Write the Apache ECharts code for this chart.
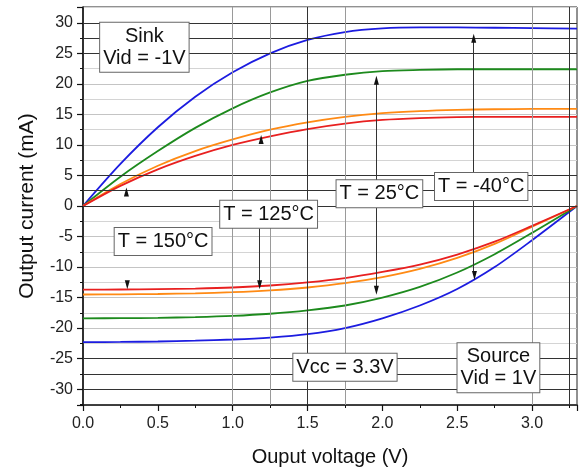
<!DOCTYPE html>
<html><head><meta charset="utf-8">
<script src="https://cdn.jsdelivr.net/npm/echarts@6/dist/echarts.min.js"></script>
<style>html,body{margin:0;padding:0;background:#fff}#c{width:581px;height:472px}</style>
</head><body><div id="c"></div>
<script>
// ---- data ----
const voltage = [0, 0.25, 0.5, 0.75, 1.0, 1.25, 1.5, 1.75, 2.0, 2.25, 2.5, 2.75, 3.0, 3.3];
const sinkBlue   = [0, 6.9, 12.9, 17.9, 21.9, 25.0, 27.2, 28.5, 29.1, 29.25, 29.25, 29.2, 29.15, 29.05];
const sinkGreen  = [0, 4.8, 9.0, 12.8, 16.0, 18.6, 20.5, 21.5, 22.1, 22.3, 22.4, 22.4, 22.4, 22.4];
const sinkOrange = [0, 3.6, 6.6, 9.0, 10.9, 12.5, 13.7, 14.6, 15.2, 15.55, 15.75, 15.85, 15.9, 15.9];
const sinkRed    = [0, 3.3, 6.0, 8.2, 10.0, 11.4, 12.6, 13.5, 14.1, 14.4, 14.55, 14.6, 14.6, 14.6];
const sourceBlue   = [-22.3, -22.27, -22.2, -22.07, -21.87, -21.55, -21.0, -20.0, -18.4, -16.3, -13.6, -10.0, -5.6, 0];
const sourceGreen  = [-18.4, -18.38, -18.32, -18.2, -18.0, -17.65, -17.1, -16.3, -15.0, -13.25, -10.9, -7.9, -4.4, 0];
const sourceOrange = [-14.5, -14.47, -14.42, -14.3, -14.12, -13.82, -13.35, -12.65, -11.65, -10.3, -8.5, -6.2, -3.4, 0];
const sourceRed    = [-13.7, -13.68, -13.63, -13.53, -13.35, -13.02, -12.5, -11.8, -10.8, -9.6, -7.95, -5.85, -3.25, 0];

const xTickLabels = ['0.0', '0.5', '1.0', '1.5', '2.0', '2.5', '3.0'];
const yTickLabels = ['-30', '-25', '-20', '-15', '-10', '-5', '0', '5', '10', '15', '20', '25', '30'];

const noteTexts = ['Sink\nVid = -1V', 'T = 150°C', 'T = 125°C', 'T = 25°C', 'T = -40°C', 'Vcc = 3.3V', 'Source\nVid = 1V'];
const noteAnchors = [[0.41, 26], [0.535, -5.8], [1.24, -1.35], [1.98, 2.0], [2.66, 3.2], [1.75, -26.4], [2.775, -26.5]];
const pointerLines = [[[1.18, -3.7], [1.18, -12.9]], [[1.96, 21.0], [1.96, -14.0]], [[2.61, 27.8], [2.61, -11.2]]];
const arrowUp = [[0.29, 2.3], [1.19, 10.9], [1.96, 20.6], [2.61, 27.5]];
const arrowDown = [[0.296, -12.9], [1.18, -12.9], [1.96, -13.8], [2.615, -11.4]];

const darkRulesY = [30, 27.5, 25, 5, 2.5, 0, -25, -27.5, -30];
const darkRulesX = [1.5, 3.25];
const lightRulesX = [1.0, 1.25, 1.75, 3.0];

// ---- chart ----
const FONT = '"Liberation Sans", Arial, sans-serif';
const chart = echarts.init(document.getElementById('c'), null, {renderer: 'canvas'});

function pairs(ys) { return voltage.map((v, i) => [v, ys[i]]); }
function curve(name, ys, color) {
  return {
    name, type: 'line', data: pairs(ys), showSymbol: false, symbol: 'none',
    smooth: 0.3, z: 3,
    lineStyle: {color, width: 1.8}, itemStyle: {color}
  };
}

const series = [
  {
    type: 'line', data: [], z: 1, silent: true,
    markLine: {
      silent: true, symbol: ['none', 'none'], label: {show: false}, animation: false,
      data: [
        ...darkRulesY.map(v => ({yAxis: v, lineStyle: {color: '#333', width: 1, type: 'solid'}})),
        ...darkRulesX.map(v => ({xAxis: v, lineStyle: {color: '#333', width: 1, type: 'solid'}})),
        ...lightRulesX.map(v => ({xAxis: v, lineStyle: {color: '#9a9a9a', width: 1, type: 'solid'}}))
      ]
    }
  },
  curve('sinkBlue', sinkBlue, '#1c1ce0'),
  curve('sinkGreen', sinkGreen, '#1d8a1d'),
  curve('sinkOrange', sinkOrange, '#ff8a14'),
  curve('sinkRed', sinkRed, '#e82020'),
  curve('sourceBlue', sourceBlue, '#1c1ce0'),
  curve('sourceGreen', sourceGreen, '#1d8a1d'),
  curve('sourceOrange', sourceOrange, '#ff8a14'),
  curve('sourceRed', sourceRed, '#e82020'),
  {
    type: 'line', data: [], z: 4, silent: true,
    markLine: {
      silent: true, symbol: ['none', 'none'], label: {show: false}, animation: false,
      lineStyle: {color: '#333', width: 1, type: 'solid'},
      data: pointerLines.map(p => [{coord: p[0]}, {coord: p[1]}])
    },
    markPoint: {
      silent: true, animation: false,
      data: [
        ...arrowUp.map(c => ({coord: c, symbol: 'triangle', symbolSize: [5, 9], symbolRotate: 0,
          itemStyle: {color: '#111'}, label: {show: false}})),
        ...arrowDown.map(c => ({coord: c, symbol: 'triangle', symbolSize: [5, 9], symbolRotate: 180,
          itemStyle: {color: '#111'}, label: {show: false}}))
      ]
    }
  },
  {
    type: 'line', data: [], z: 6, silent: true,
    markPoint: {
      silent: true, animation: false,
      data: noteTexts.map((t, i) => ({
        coord: noteAnchors[i], symbol: 'rect', symbolSize: 1,
        itemStyle: {color: 'rgba(0,0,0,0)'},
        label: {
          show: true, position: 'inside', formatter: t, color: '#111',
          fontFamily: FONT, fontSize: 20, lineHeight: 22, align: 'center',
          backgroundColor: '#fff', borderColor: '#666', borderWidth: 1, padding: [3, 3, 2, 3]
        }
      }))
    }
  }
];

chart.setOption({
  animation: false,
  backgroundColor: '#fff',
  grid: {left: 83, right: 4, top: 7, bottom: 67, show: true, borderColor: '#222', borderWidth: 1},
  xAxis: {
    type: 'value', min: 0, max: 3.3, interval: 0.5,
    name: 'Ouput voltage (V)', nameLocation: 'middle', nameGap: 42,
    nameTextStyle: {fontFamily: FONT, fontSize: 20, color: '#111'},
    axisLine: {show: true, onZero: false, lineStyle: {color: '#111', width: 1.5}},
    axisTick: {show: true, inside: false, length: 6, lineStyle: {color: '#111', width: 1.2}},
    minorTick: {show: true, splitNumber: 2, length: 3, lineStyle: {color: '#111'}},
    splitLine: {show: false},
    axisLabel: {
      fontFamily: FONT, fontSize: 16, color: '#222', margin: 11,
      formatter: v => { const i = Math.round(v / 0.5); return (Math.abs(v - i * 0.5) < 1e-6 && i < xTickLabels.length) ? xTickLabels[i] : ''; }
    }
  },
  yAxis: {
    type: 'value', min: -32.6, max: 32.6, minInterval: 5, maxInterval: 5, splitNumber: 13,
    name: 'Output current (mA)', nameLocation: 'middle', nameGap: 45,
    nameTextStyle: {fontFamily: FONT, fontSize: 21, color: '#111'},
    axisLine: {show: true, onZero: false, lineStyle: {color: '#111', width: 1.5}},
    axisTick: {show: true, inside: false, length: 6, lineStyle: {color: '#111', width: 1.2}},
    minorTick: {show: true, splitNumber: 2, length: 3, lineStyle: {color: '#111'}},
    splitLine: {show: true, lineStyle: {color: '#c4c4c4', width: 1}},
    minorSplitLine: {show: true, lineStyle: {color: '#d4d4d4', width: 1}},
    axisLabel: {
      fontFamily: FONT, fontSize: 16, color: '#222', margin: 10,
      formatter: v => { const i = Math.round((v + 30) / 5); return (Math.abs(v - (i * 5 - 30)) < 1e-6 && i >= 0 && i < yTickLabels.length) ? yTickLabels[i] : ''; }
    }
  },
  series
});
</script></body></html>
